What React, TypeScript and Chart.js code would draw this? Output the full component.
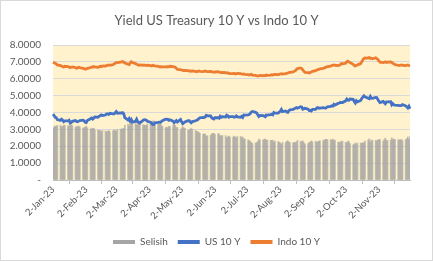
import { useEffect, useRef } from 'react';
import { Chart, registerables } from 'chart.js';

Chart.register(...registerables);

// Daily 10-year yields (%), business days from Mon 2-Jan-23 to Fri 1-Dec-23, one row per week
const US_10Y: number[] = [
  3.90, 3.82, 3.72, 3.70, 3.58,
  3.53, 3.60, 3.55, 3.45, 3.50,
  3.50, 3.54, 3.38, 3.40, 3.48,
  3.52, 3.47, 3.45, 3.49, 3.52,
  3.55, 3.51, 3.42, 3.40, 3.53,
  3.63, 3.67, 3.61, 3.66, 3.74,
  3.72, 3.77, 3.81, 3.86, 3.82,
  3.85, 3.92, 3.92, 3.88, 3.95,
  3.92, 3.92, 3.99, 4.06, 3.96,
  3.98, 3.97, 3.99, 3.93, 3.70,
  3.55, 3.64, 3.50, 3.58, 3.43,
  3.48, 3.60, 3.45, 3.42, 3.38,
  3.53, 3.57, 3.56, 3.55, 3.48,
  3.43, 3.35, 3.30, 3.29, 3.39,
  3.41, 3.43, 3.41, 3.45, 3.52,
  3.60, 3.59, 3.60, 3.54, 3.57,
  3.49, 3.40, 3.45, 3.52, 3.44,
  3.59, 3.44, 3.34, 3.39, 3.44,
  3.52, 3.52, 3.44, 3.39, 3.46,
  3.51, 3.54, 3.57, 3.64, 3.68,
  3.71, 3.70, 3.74, 3.83, 3.80,
  3.80, 3.69, 3.64, 3.61, 3.69,
  3.69, 3.66, 3.78, 3.72, 3.75,
  3.73, 3.84, 3.80, 3.72, 3.76,
  3.76, 3.72, 3.73, 3.80, 3.74,
  3.72, 3.77, 3.71, 3.85, 3.84,
  3.86, 3.88, 3.94, 4.03, 4.06,
  4.01, 3.97, 3.86, 3.76, 3.83,
  3.81, 3.79, 3.75, 3.85, 3.84,
  3.87, 3.89, 3.86, 4.00, 3.96,
  3.97, 4.02, 4.08, 4.18, 4.05,
  4.09, 4.03, 4.01, 4.11, 4.16,
  4.19, 4.22, 4.26, 4.29, 4.25,
  4.34, 4.33, 4.20, 4.23, 4.25,
  4.20, 4.12, 4.12, 4.09, 4.18,
  4.18, 4.27, 4.29, 4.25, 4.26,
  4.29, 4.28, 4.25, 4.29, 4.33,
  4.36, 4.40, 4.38, 4.49, 4.44,
  4.54, 4.56, 4.61, 4.59, 4.59,
  4.69, 4.80, 4.73, 4.72, 4.80,
  4.78, 4.65, 4.56, 4.70, 4.63,
  4.71, 4.83, 4.91, 4.99, 4.93,
  4.85, 4.82, 4.95, 4.85, 4.84,
  4.89, 4.88, 4.77, 4.67, 4.59,
  4.66, 4.58, 4.52, 4.63, 4.63,
  4.64, 4.46, 4.53, 4.45, 4.44,
  4.42, 4.41, 4.41, 4.42, 4.47,
  4.39, 4.34, 4.27, 4.37, 4.22,
];

const INDO_10Y: number[] = [
  6.98, 6.95, 6.92, 6.88, 6.82,
  6.78, 6.75, 6.72, 6.70, 6.74,
  6.72, 6.70, 6.66, 6.68, 6.70,
  6.66, 6.62, 6.64, 6.68, 6.66,
  6.62, 6.60, 6.56, 6.58, 6.62,
  6.66, 6.70, 6.68, 6.72, 6.70,
  6.68, 6.70, 6.74, 6.72, 6.76,
  6.75, 6.78, 6.80, 6.82, 6.80,
  6.84, 6.88, 6.92, 6.95, 6.96,
  6.98, 7.00, 7.02, 6.98, 6.94,
  6.86, 6.84, 6.94, 7.00, 6.96,
  6.90, 6.86, 6.84, 6.80, 6.82,
  6.80, 6.82, 6.80, 6.78, 6.80,
  6.78, 6.76, 6.80, 6.78, 6.76,
  6.74, 6.72, 6.70, 6.72, 6.70,
  6.70, 6.72, 6.70, 6.72, 6.74,
  6.72, 6.70, 6.68, 6.62, 6.56,
  6.54, 6.52, 6.50, 6.48, 6.50,
  6.48, 6.46, 6.46, 6.44, 6.46,
  6.44, 6.42, 6.44, 6.46, 6.44,
  6.42, 6.44, 6.46, 6.44, 6.42,
  6.44, 6.42, 6.40, 6.38, 6.40,
  6.42, 6.40, 6.38, 6.36, 6.38,
  6.36, 6.34, 6.36, 6.32, 6.30,
  6.30, 6.32, 6.28, 6.30, 6.32,
  6.30, 6.28, 6.26, 6.28, 6.26,
  6.24, 6.22, 6.24, 6.26, 6.22,
  6.20, 6.18, 6.16, 6.18, 6.20,
  6.18, 6.20, 6.18, 6.22, 6.20,
  6.22, 6.24, 6.22, 6.24, 6.26,
  6.24, 6.26, 6.28, 6.30, 6.28,
  6.30, 6.32, 6.34, 6.36, 6.38,
  6.40, 6.44, 6.48, 6.54, 6.60,
  6.64, 6.60, 6.52, 6.44, 6.38,
  6.36, 6.34, 6.38, 6.40, 6.44,
  6.48, 6.52, 6.54, 6.56, 6.58,
  6.62, 6.64, 6.66, 6.70, 6.72,
  6.74, 6.78, 6.80, 6.82, 6.80,
  6.78, 6.80, 6.84, 6.90, 6.88,
  6.92, 7.00, 7.04, 7.00, 6.96,
  6.86, 6.78, 6.76, 6.80, 6.82,
  6.90, 7.00, 7.12, 7.20, 7.24,
  7.22, 7.26, 7.20, 7.22, 7.18,
  7.24, 7.20, 7.14, 7.06, 6.98,
  6.96, 6.98, 7.00, 6.96, 6.98,
  7.00, 6.96, 6.92, 6.88, 6.84,
  6.80, 6.78, 6.80, 6.82, 6.80,
  6.78, 6.80, 6.82, 6.78, 6.80,
];

const MONTHS = ['Jan', 'Feb', 'Mar', 'Apr', 'May', 'Jun', 'Jul', 'Aug', 'Sep', 'Oct', 'Nov', 'Dec'];
const SERIES_NAMES = ['Selisih', 'US 10 Y', 'Indo 10 Y'];
const TICK_DAY = 2; // x-axis labels fall on the 2nd of each month
const Y_MIN = 0;
const Y_MAX = 8;
const Y_STEP = 1;

const FIRST_DAY = Date.UTC(2023, 0, 2);
const LAST_DAY = Date.UTC(2023, 11, 1);
const DAY_MS = 86400000;

// Calendar axis: every day gets a slot, weekends stay empty
const calendar: { label: string; day: number; weekday: boolean }[] = [];
for (let t = FIRST_DAY; t <= LAST_DAY; t += DAY_MS) {
  const d = new Date(t);
  const dow = d.getUTCDay();
  calendar.push({
    label: `${d.getUTCDate()}-${MONTHS[d.getUTCMonth()]}-23`,
    day: d.getUTCDate(),
    weekday: dow !== 0 && dow !== 6,
  });
}

function spreadOverCalendar(values: number[]): (number | null)[] {
  let k = 0;
  return calendar.map((c) => (c.weekday ? (k < values.length ? values[k++] : null) : null));
}

const usDaily = spreadOverCalendar(US_10Y);
const indoDaily = spreadOverCalendar(INDO_10Y);
// Selisih = Indo 10 Y minus US 10 Y
const spreadDaily = usDaily.map((u, i) => {
  const id = indoDaily[i];
  return u == null || id == null ? null : +(id - u).toFixed(4);
});

const FONT = 'Lato, "Open Sans", sans-serif';
const TEXT = '#595959';

const plotBackground = {
  id: 'plotBackground',
  beforeDraw(chart: Chart) {
    const { ctx, chartArea } = chart;
    ctx.save();
    ctx.fillStyle = '#FFF2CC';
    ctx.fillRect(chartArea.left, chartArea.top, chartArea.right - chartArea.left, chartArea.bottom - chartArea.top);
    ctx.restore();
  },
};

export default function App() {
  const canvasRef = useRef<HTMLCanvasElement | null>(null);

  useEffect(() => {
    const canvas = canvasRef.current;
    if (!canvas) return;
    const chart = new Chart(canvas, {
      type: 'bar',
      data: {
        labels: calendar.map((c) => c.label),
        datasets: [
          {
            type: 'bar',
            label: SERIES_NAMES[0],
            data: spreadDaily,
            backgroundColor: 'rgba(160,160,160,0.66)',
            borderWidth: 0,
            barPercentage: 1,
            categoryPercentage: 1,
            order: 1,
          },
          {
            type: 'line',
            label: SERIES_NAMES[1],
            data: usDaily,
            borderColor: '#4472C4',
            backgroundColor: '#4472C4',
            borderWidth: 2.8,
            pointRadius: 0,
            spanGaps: true,
            tension: 0,
            order: 0,
          },
          {
            type: 'line',
            label: SERIES_NAMES[2],
            data: indoDaily,
            borderColor: '#ED7D31',
            backgroundColor: '#ED7D31',
            borderWidth: 2.8,
            pointRadius: 0,
            spanGaps: true,
            tension: 0,
            order: 0,
          },
        ],
      },
      options: {
        responsive: false,
        animation: false,
        devicePixelRatio: 1,
        layout: { padding: { left: 0, right: 0, top: 0, bottom: 4 } },
        plugins: {
          title: {
            display: true,
            text: 'Yield US Treasury 10 Y vs Indo 10 Y',
            color: TEXT,
            font: { family: FONT, size: 13, weight: 'normal' },
            padding: { top: 13, bottom: 16.4 },
          },
          legend: {
            position: 'bottom',
            labels: {
              color: TEXT,
              font: { family: FONT, size: 10 },
              boxWidth: 22,
              boxHeight: 4,
              padding: 10,
              sort: (a: any, b: any) => a.datasetIndex - b.datasetIndex,
              generateLabels: (c: Chart) =>
                Chart.defaults.plugins.legend.labels.generateLabels(c).map((item: any) => ({
                  ...item,
                  lineWidth: 0,
                  strokeStyle: 'transparent',
                  fillStyle: c.data.datasets[item.datasetIndex].type === 'bar' ? '#A5A5A5' : item.strokeStyle,
                })),
            },
          },
          tooltip: { enabled: false },
        },
        scales: {
          x: {
            type: 'category',
            offset: false,
            afterBuildTicks: (scale: any) => {
              const last = calendar.length - 1;
              scale.ticks = scale.ticks.filter((t: any) => calendar[t.value].day === TICK_DAY || t.value === last);
            },
            afterFit: (scale: any) => {
              scale.height = 47;
            },
            grid: {
              display: true,
              drawOnChartArea: false,
              drawTicks: true,
              tickLength: 4,
              color: '#BFBFBF',
            },
            border: { display: true, color: '#BFBFBF' },
            ticks: {
              autoSkip: false,
              maxRotation: 45,
              minRotation: 45,
              padding: 0,
              color: TEXT,
              font: { family: FONT, size: 9.5 },
              callback: (v: any) => (calendar[v].day === TICK_DAY ? calendar[v].label : ''),
            },
          },
          y: {
            min: Y_MIN,
            max: Y_MAX,
            afterFit: (scale: any) => {
              scale.width = 53;
            },
            grid: { color: '#D9D9D9', drawTicks: false },
            border: { display: false },
            ticks: {
              stepSize: Y_STEP,
              padding: 12,
              color: TEXT,
              font: { family: FONT, size: 10 },
              callback: (v: any) => (Number(v) === 0 ? '-' : Number(v).toFixed(4)),
            },
          },
          // empty right-hand margin axis, keeps the plot clear of the frame
          margin: {
            type: 'linear',
            position: 'right',
            display: true,
            afterFit: (scale: any) => {
              scale.width = 23;
            },
            grid: { display: false, drawOnChartArea: false },
            border: { display: false },
            ticks: { display: false },
          },
        },
      },
      plugins: [plotBackground],
    });
    return () => chart.destroy();
  }, []);

  return (
    <div style={{ position: 'fixed', left: 0, top: 0, width: 433, height: 261, background: '#fff' }}>
      <canvas ref={canvasRef} width={433} height={261} style={{ display: 'block' }} />
      <div
        style={{
          position: 'absolute',
          inset: 0,
          border: '1px solid #D9D9D9',
          pointerEvents: 'none',
        }}
      />
    </div>
  );
}
